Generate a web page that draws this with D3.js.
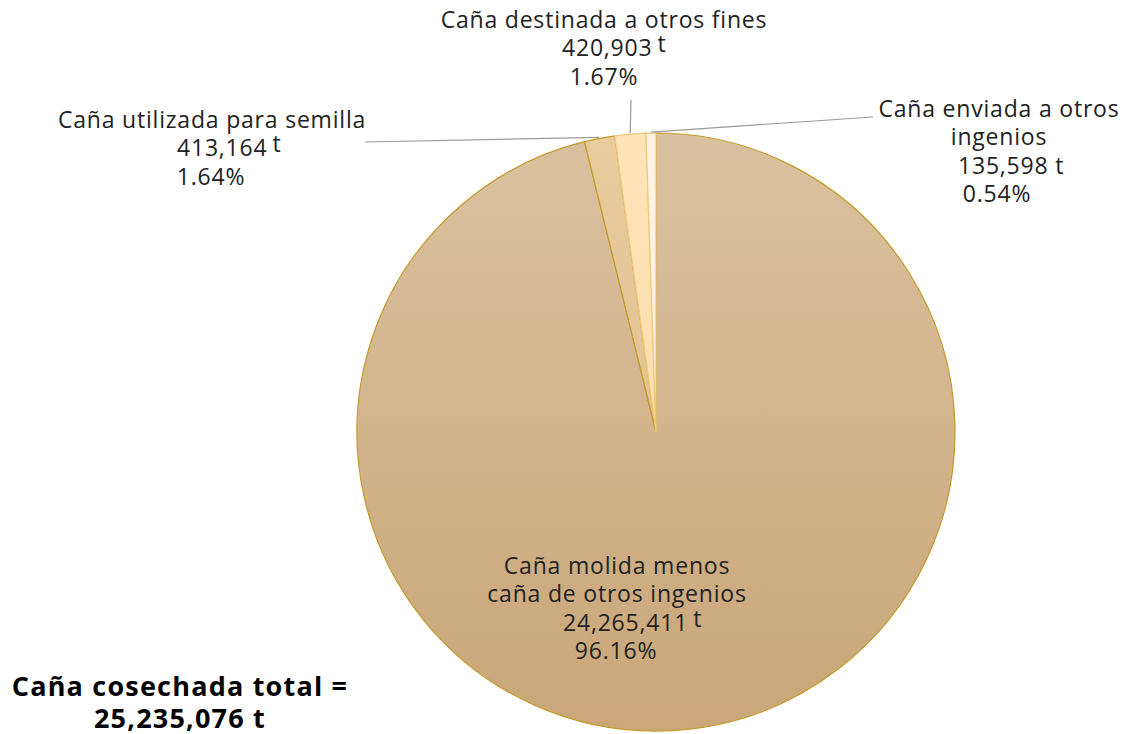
<!DOCTYPE html>
<html><head><meta charset="utf-8">
<script src="https://cdn.jsdelivr.net/npm/d3@7"></script>
<style>
html,body{margin:0;padding:0;background:#fff;}
svg{display:block;font-family:"Open Sans",sans-serif;}
</style></head>
<body>
<svg id="chart" width="1124" height="734"></svg>
<script>
const categories = ["Caña molida menos caña de otros ingenios","Caña utilizada para semilla","Caña destinada a otros fines","Caña enviada a otros ingenios"];
const values = [24265411, 413164, 420903, 135598];
const valueLabels = ["24,265,411","413,164","420,903","135,598"];
const pctLabels = ["96.16%","1.64%","1.67%","0.54%"];
const nameLines = [["Caña molida menos","caña de otros ingenios"],["Caña utilizada para semilla"],["Caña destinada a otros fines"],["Caña enviada a otros","ingenios"]];
const totalLabel = ["Caña cosechada total =","25,235,076 t"];

const svg = d3.select("#chart");
const cx = 656, cy = 432, R = 299;
const defs = svg.append("defs");
const gradStops = [["#dac19f","#caa679"],["#e9cb9e","#ddb987"],["#ffe4b8","#fdd9a4"],["#fff3e3","#ffeeda"]];
gradStops.forEach((s,i)=>{
  const g = defs.append("linearGradient").attr("id","g"+i).attr("gradientUnits","userSpaceOnUse")
    .attr("x1",0).attr("y1",-R).attr("x2",0).attr("y2",R);
  g.append("stop").attr("offset","0%").attr("stop-color",s[0]);
  g.append("stop").attr("offset","100%").attr("stop-color",s[1]);
});

const pie = d3.pie().sort(null).value(d=>d)(values);
const arc = d3.arc().innerRadius(0).outerRadius(R);
const g = svg.append("g").attr("transform",`translate(${cx},${cy})`);
g.selectAll("path").data(pie).join("path")
  .attr("d",arc).attr("fill",(d,i)=>`url(#g${i})`)
  .attr("stroke",(d,i)=> i===2||i===3 ? "#f0c77a" : "#c49a2c").attr("stroke-width",1.2);

// leader lines
const leaderEnds = [null,[365,142],[631,100],[873,117]];
pie.forEach((d,i)=>{
  if(!leaderEnds[i]) return;
  const a = (d.startAngle+d.endAngle)/2;
  const x0 = cx + (R+1)*Math.sin(a), y0 = cy - (R+1)*Math.cos(a);
  svg.append("line").attr("x1",x0).attr("y1",y0).attr("x2",leaderEnds[i][0]).attr("y2",leaderEnds[i][1])
    .attr("stroke","#9a9a9a").attr("stroke-width",1.2);
});

// labels
const labelPos = [
  {nx:617, ny:574, vx:563, px:616, sup:true},
  {nx:212, ny:128, vx:177, px:211, sup:true},
  {nx:604, ny:28, vx:562, px:604, sup:true},
  {nx:999, ny:117, vx:958, px:997, sup:false}
];
const lh = 28.3;
const fs = 23, ls = 0.8;
function txt(x,y,anchor,t){
  return svg.append("text").attr("x",x).attr("y",y).attr("text-anchor",anchor)
    .attr("font-size",fs).attr("letter-spacing",ls).attr("fill","#222").text(t);
}
labelPos.forEach((p,i)=>{
  const lines = nameLines[i];
  lines.forEach((t,j)=> txt(p.nx, p.ny+j*lh, "middle", t));
  const ny = p.ny + lines.length*lh;
  if(p.sup){
    const n = txt(p.vx, ny, "start", valueLabels[i]);
    const w = n.node().getComputedTextLength();
    txt(p.vx + w + 5, ny-4, "start", "t");
  } else {
    txt(p.vx, ny, "start", valueLabels[i] + " t");
  }
  txt(p.px, ny+lh, "middle", pctLabels[i]);
});

totalLabel.forEach((t,j)=>{
  svg.append("text").attr("x",180).attr("y",696+j*32).attr("text-anchor","middle")
    .attr("font-size",27).attr("letter-spacing",1.2).attr("font-weight","bold").attr("fill","#000").text(t);
});
</script>
</body></html>
